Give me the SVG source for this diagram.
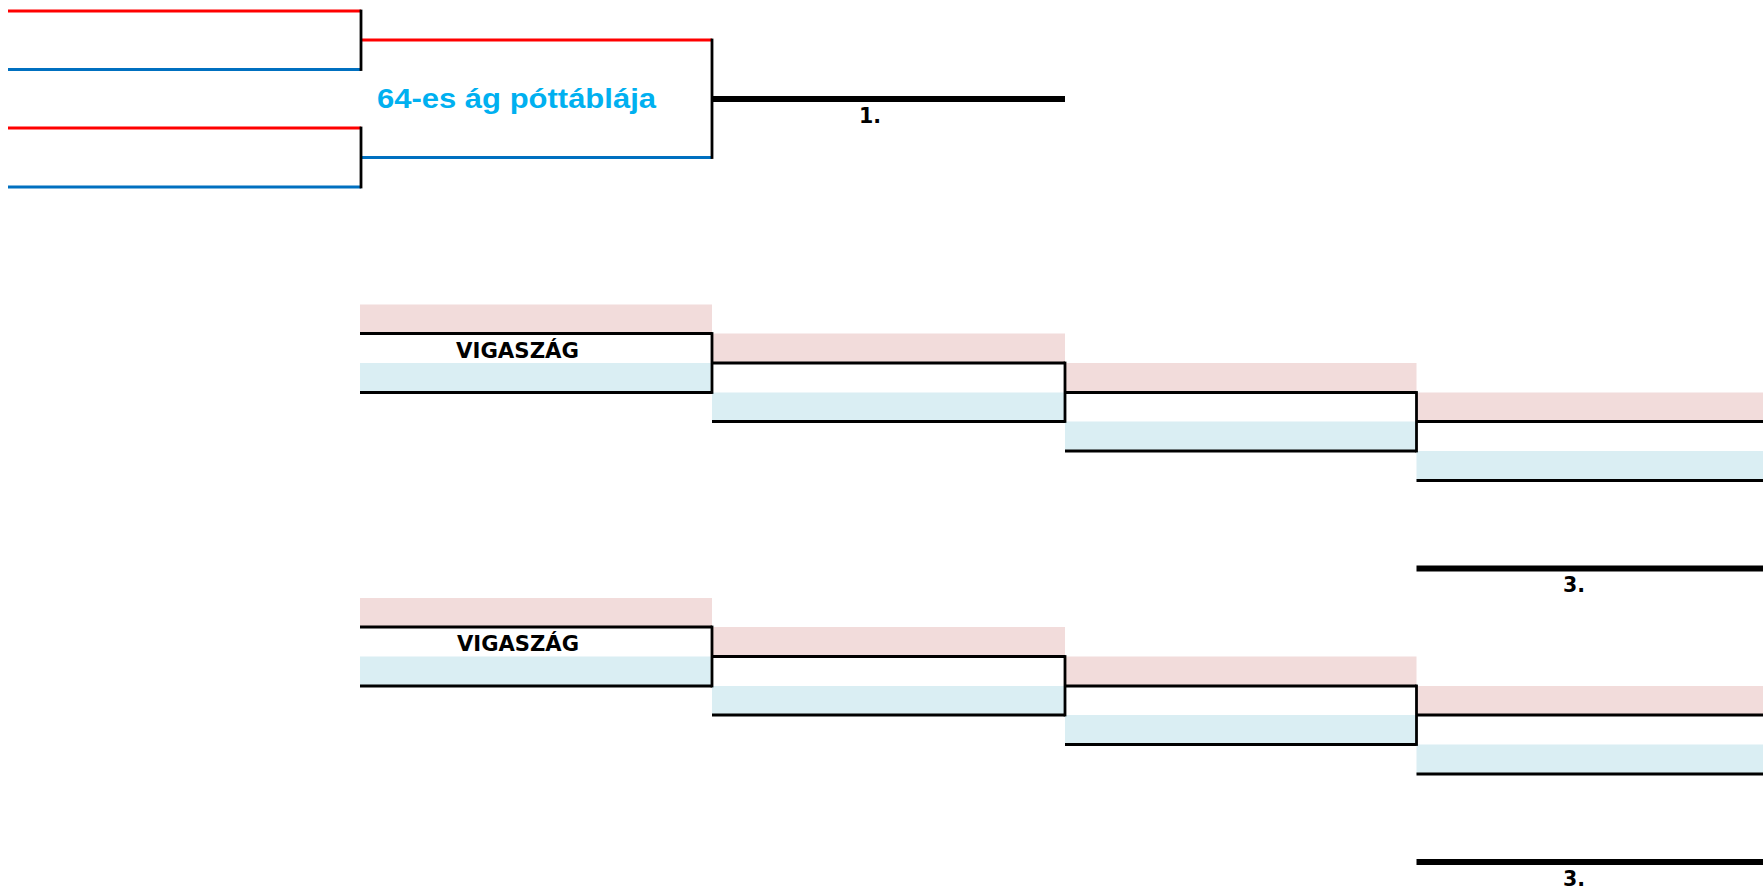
<svg xmlns="http://www.w3.org/2000/svg" width="1763" height="891" viewBox="0 0 1763 891">
<style>
.red{stroke:#FF0000;stroke-width:2.8;fill:none}
.blu{stroke:#0070C0;stroke-width:2.8;fill:none}
.blk{stroke:#000000;stroke-width:2.8;fill:none}
.thick{stroke:#000000;stroke-width:5.8;fill:none}
.pink{fill:#F2DCDB}
.aqua{fill:#DAEEF3}
.title{font-family:"Liberation Sans",Arial,sans-serif;font-weight:bold;font-size:28px;fill:#00B0F0}
.lbl{font-family:"DejaVu Sans",Verdana,sans-serif;font-weight:bold;font-size:20.5px;fill:#000000;text-anchor:middle}
.vig{font-family:"DejaVu Sans",Verdana,sans-serif;font-weight:bold;font-size:20.5px;fill:#000000}
</style>
<rect width="1763" height="891" fill="#FFFFFF"/>

<!-- top bracket -->
<g id="slot-r1a"><line class="red" x1="8" y1="11" x2="361" y2="11"/><line class="blu" x1="8" y1="69.5" x2="361" y2="69.5"/></g>
<g id="slot-r1b"><line class="red" x1="8" y1="128" x2="361" y2="128"/><line class="blu" x1="8" y1="187" x2="361" y2="187"/></g>
<g id="slot-r2"><line class="red" x1="361" y1="40" x2="712" y2="40"/><line class="blu" x1="361" y1="157.5" x2="712" y2="157.5"/>
<text class="title" x="377" y="107.7" textLength="279" lengthAdjust="spacingAndGlyphs">64-es ág póttáblája</text></g>
<g id="slot-first"><line class="thick" x1="712" y1="99" x2="1065" y2="99"/><text class="lbl" x="870" y="123">1.</text></g>

<!-- consolation A -->
<g id="vigA-c0"><rect class="pink" x="360" y="304.5" width="352" height="29"/><rect class="aqua" x="360" y="363" width="352" height="29.5"/>
<line class="blk" x1="360" y1="333.5" x2="712" y2="333.5"/><line class="blk" x1="360" y1="392.5" x2="712" y2="392.5"/>
<text class="vig" x="456" y="357.5" textLength="123" lengthAdjust="spacingAndGlyphs">VIGASZÁG</text></g>
<g id="vigA-c1"><rect class="pink" x="712" y="333.5" width="353" height="29.5"/><rect class="aqua" x="712" y="392.5" width="353" height="29"/>
<line class="blk" x1="712" y1="363" x2="1065" y2="363"/><line class="blk" x1="712" y1="421.5" x2="1065" y2="421.5"/></g>
<g id="vigA-c2"><rect class="pink" x="1065" y="363" width="351.5" height="29.5"/><rect class="aqua" x="1065" y="421.5" width="351.5" height="29.5"/>
<line class="blk" x1="1065" y1="392.5" x2="1416.5" y2="392.5"/><line class="blk" x1="1065" y1="451" x2="1416.5" y2="451"/></g>
<g id="vigA-c3"><rect class="pink" x="1416.5" y="392.5" width="346.5" height="29"/><rect class="aqua" x="1416.5" y="451" width="346.5" height="29.5"/>
<line class="blk" x1="1416.5" y1="421.5" x2="1763" y2="421.5"/><line class="blk" x1="1416.5" y1="480.5" x2="1763" y2="480.5"/></g>
<g id="thirdA"><line class="thick" x1="1416.5" y1="568.5" x2="1763" y2="568.5"/><text class="lbl" x="1574" y="592">3.</text></g>

<!-- consolation B -->
<g id="vigB-c0"><rect class="pink" x="360" y="598" width="352" height="29"/><rect class="aqua" x="360" y="656.5" width="352" height="29.5"/>
<line class="blk" x1="360" y1="627" x2="712" y2="627"/><line class="blk" x1="360" y1="686" x2="712" y2="686"/>
<text class="vig" x="457" y="651" textLength="122" lengthAdjust="spacingAndGlyphs">VIGASZÁG</text></g>
<g id="vigB-c1"><rect class="pink" x="712" y="627" width="353" height="29.5"/><rect class="aqua" x="712" y="686" width="353" height="29"/>
<line class="blk" x1="712" y1="656.5" x2="1065" y2="656.5"/><line class="blk" x1="712" y1="715" x2="1065" y2="715"/></g>
<g id="vigB-c2"><rect class="pink" x="1065" y="656.5" width="351.5" height="29.5"/><rect class="aqua" x="1065" y="715" width="351.5" height="29.5"/>
<line class="blk" x1="1065" y1="686" x2="1416.5" y2="686"/><line class="blk" x1="1065" y1="744.5" x2="1416.5" y2="744.5"/></g>
<g id="vigB-c3"><rect class="pink" x="1416.5" y="686" width="346.5" height="29"/><rect class="aqua" x="1416.5" y="744.5" width="346.5" height="29.5"/>
<line class="blk" x1="1416.5" y1="715" x2="1763" y2="715"/><line class="blk" x1="1416.5" y1="774" x2="1763" y2="774"/></g>
<g id="thirdB"><line class="thick" x1="1416.5" y1="862" x2="1763" y2="862"/><text class="lbl" x="1574" y="885.5">3.</text></g>

<!-- connectors -->
<g id="connectors">
<line class="blk" x1="361" y1="9.6" x2="361" y2="70.9"/>
<line class="blk" x1="361" y1="126.6" x2="361" y2="188.4"/>
<line class="blk" x1="712" y1="38.6" x2="712" y2="158.9"/>
<line class="blk" x1="712" y1="332.1" x2="712" y2="393.9"/>
<line class="blk" x1="1065" y1="361.6" x2="1065" y2="422.9"/>
<line class="blk" x1="1416.5" y1="391.1" x2="1416.5" y2="452.4"/>
<line class="blk" x1="712" y1="625.6" x2="712" y2="687.4"/>
<line class="blk" x1="1065" y1="655.1" x2="1065" y2="716.4"/>
<line class="blk" x1="1416.5" y1="684.6" x2="1416.5" y2="745.9"/>
</g>
</svg>
